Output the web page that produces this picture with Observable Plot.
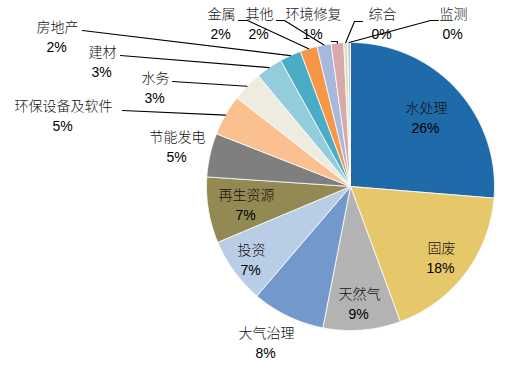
<!DOCTYPE html>
<html>
<head>
<meta charset="utf-8">
<script src="https://cdn.jsdelivr.net/npm/d3@7"></script>
<script src="https://cdn.jsdelivr.net/npm/@observablehq/plot@0.6"></script>
<style>
  html, body { margin: 0; padding: 0; background: #fff; }
  #chart svg { display: block; }
  g[aria-label="cjk-labels"] text { letter-spacing: 2px; }
</style>
</head>
<body>
<div id="chart"></div>
<script>
// ---- data ----
const categories = ["水处理","固废","天然气","大气治理","投资","再生资源","节能发电","环保设备及软件","水务","建材","房地产","金属","其他","环境修复","综合","监测"];
const shares = [26.3,18.1,8.7,8.2,7.4,7.4,4.9,4.6,3.4,3.0,2.4,1.9,1.6,1.4,0.45,0.3];
const colors = ["#1F6BAA","#E6C76A","#B3B3B3","#7398CB","#B9CDE5","#938953","#7F7F7F","#FAC08F","#EEECE1","#93CDDD","#4BACC6","#F79646","#A6B8DB","#D9A9AA","#D7E4BD","#CCC1DA"];

// ---- layout (pixel space) ----
const W = 506, H = 368;
const cx = 350, cy = 186, R = 144;
// label block centres
const labelPos = {
  "水处理":[425,118], "固废":[440,258], "天然气":[358,304], "大气治理":[265,343],
  "投资":[250,260], "再生资源":[245,205], "节能发电":[176,147], "环保设备及软件":[62,116],
  "水务":[154,88], "建材":[101,62], "房地产":[56,37], "金属":[220,24], "其他":[258,24],
  "环境修复":[312,24], "综合":[381,24], "监测":[452,24]
};
// leader line start points (from label side)
const leaderStart = {
  "房地产":[[82,30]], "建材":[[120,55]], "水务":[[172,81]], "环保设备及软件":[[122,110]],
  "金属":[[238,20],[247,20]], "其他":[[276,20],[284,20]], "环境修复":[[331,41],[337,41]],
  "综合":[[362,21],[354,21]], "监测":[[438,20],[430,20]]
};

const arcs = d3.pie().sort(null).value(d => d.v).startAngle(0).endAngle(2*Math.PI)(
  categories.map((c,i) => ({name:c, v:shares[i]}))
);

const px = a => cx + R*Math.sin(a);
const py = a => cy - R*Math.cos(a);

// slice polygons
const slicePts = [];
arcs.forEach(a => {
  const name = a.data.name;
  slicePts.push({name, x:cx, y:cy});
  const n = Math.max(2, Math.ceil((a.endAngle - a.startAngle) / (Math.PI/360)));
  for (let k = 0; k <= n; k++) {
    const t = a.startAngle + (a.endAngle - a.startAngle) * k / n;
    slicePts.push({name, x:px(t), y:py(t)});
  }
  slicePts.push({name, x:cx, y:cy});
});

// leader lines
const leaderPts = [];
arcs.forEach(a => {
  const name = a.data.name;
  if (!leaderStart[name]) return;
  leaderStart[name].forEach(p => leaderPts.push({name, x:p[0], y:p[1]}));
  const m = (a.startAngle + a.endAngle)/2;
  leaderPts.push({name, x:px(m), y:py(m)});
});

const labels = arcs.map(a => ({
  name: a.data.name,
  pct: Math.round(a.data.v) + "%",
  x: labelPos[a.data.name][0],
  y: labelPos[a.data.name][1]
}));

const chart = Plot.plot({
  width: W, height: H, margin: 0,
  x: {domain:[0,W], range:[0,W], axis:null},
  y: {domain:[0,H], range:[0,H], axis:null},
  color: {domain: categories, range: colors},
  style: {background:"#fff"},
  marks: [
    Plot.line(slicePts, {x:"x", y:"y", z:"name", fill:"name", stroke:"#fff", strokeWidth:0.8, strokeLinejoin:"round"}),
    Plot.line(leaderPts, {x:"x", y:"y", z:"name", stroke:"#000", strokeWidth:1.1}),
    Plot.text(labels, {x:"x", y:d => d.y - 10, dx:1, text:"name", fill:"#111", fontSize:14, fontWeight:300,
      fontFamily:"'Noto Sans CJK SC', sans-serif", ariaLabel:"cjk-labels"}),
    Plot.text(labels, {x:"x", y:d => d.y + 10, text:"pct", fill:"#000", fontSize:14,
      fontFamily:"'Liberation Sans', Arial, sans-serif"})
  ]
});
document.getElementById("chart").appendChild(chart);
</script>
</body>
</html>
